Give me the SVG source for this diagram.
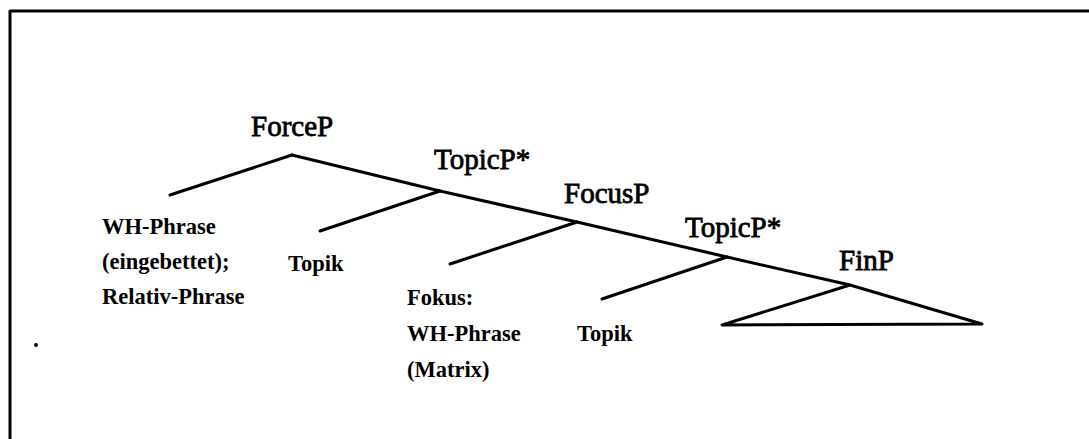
<svg xmlns="http://www.w3.org/2000/svg" width="1089" height="439" viewBox="0 0 1089 439">
<style>
.big{font-family:"Liberation Serif","Times New Roman",serif;font-size:29px;fill:#000;stroke:#000;stroke-width:0.8}
.sm{font-family:"Liberation Serif","Times New Roman",serif;font-size:22.5px;font-weight:bold;fill:#000}
.ln{stroke:#000;stroke-width:3;fill:none;stroke-linecap:round;stroke-linejoin:round}
</style>
<rect width="1089" height="439" fill="#fff"/>
<g id="frame">
<path class="ln" d="M1089,11 H10 V439"/>
</g>
<g id="connectors">
<path class="ln" d="M292,155 L440,191 L577,222 L727,257 L850,285 L982,324 L722,325 L850,285"/>
<path class="ln" d="M292,155 L170,195"/>
<path class="ln" d="M440,191 L320,231"/>
<path class="ln" d="M577,222 L450,264"/>
<path class="ln" d="M727,257 L602,299"/>
</g>
<g id="ForceP"><text class="big" x="251" y="136">ForceP</text></g>
<g id="TopicP1"><text class="big" x="434" y="169">TopicP*</text></g>
<g id="FocusP"><text class="big" x="564" y="203">FocusP</text></g>
<g id="TopicP2"><text class="big" x="685" y="237">TopicP*</text></g>
<g id="FinP"><text class="big" x="839" y="270">FinP</text></g>
<g id="WH1">
<text class="sm" x="102" y="234">WH-Phrase</text>
<text class="sm" x="102" y="269">(eingebettet);</text>
<text class="sm" x="102" y="304">Relativ-Phrase</text>
</g>
<g id="Topik1"><text class="sm" x="288" y="271">Topik</text></g>
<g id="Fokus">
<text class="sm" x="407" y="305">Fokus:</text>
<text class="sm" x="407" y="341">WH-Phrase</text>
<text class="sm" x="407" y="377">(Matrix)</text>
</g>
<g id="Topik2"><text class="sm" x="577" y="341">Topik</text></g>
<g id="dot"><circle cx="36" cy="345" r="2" fill="#000"/></g>
</svg>
